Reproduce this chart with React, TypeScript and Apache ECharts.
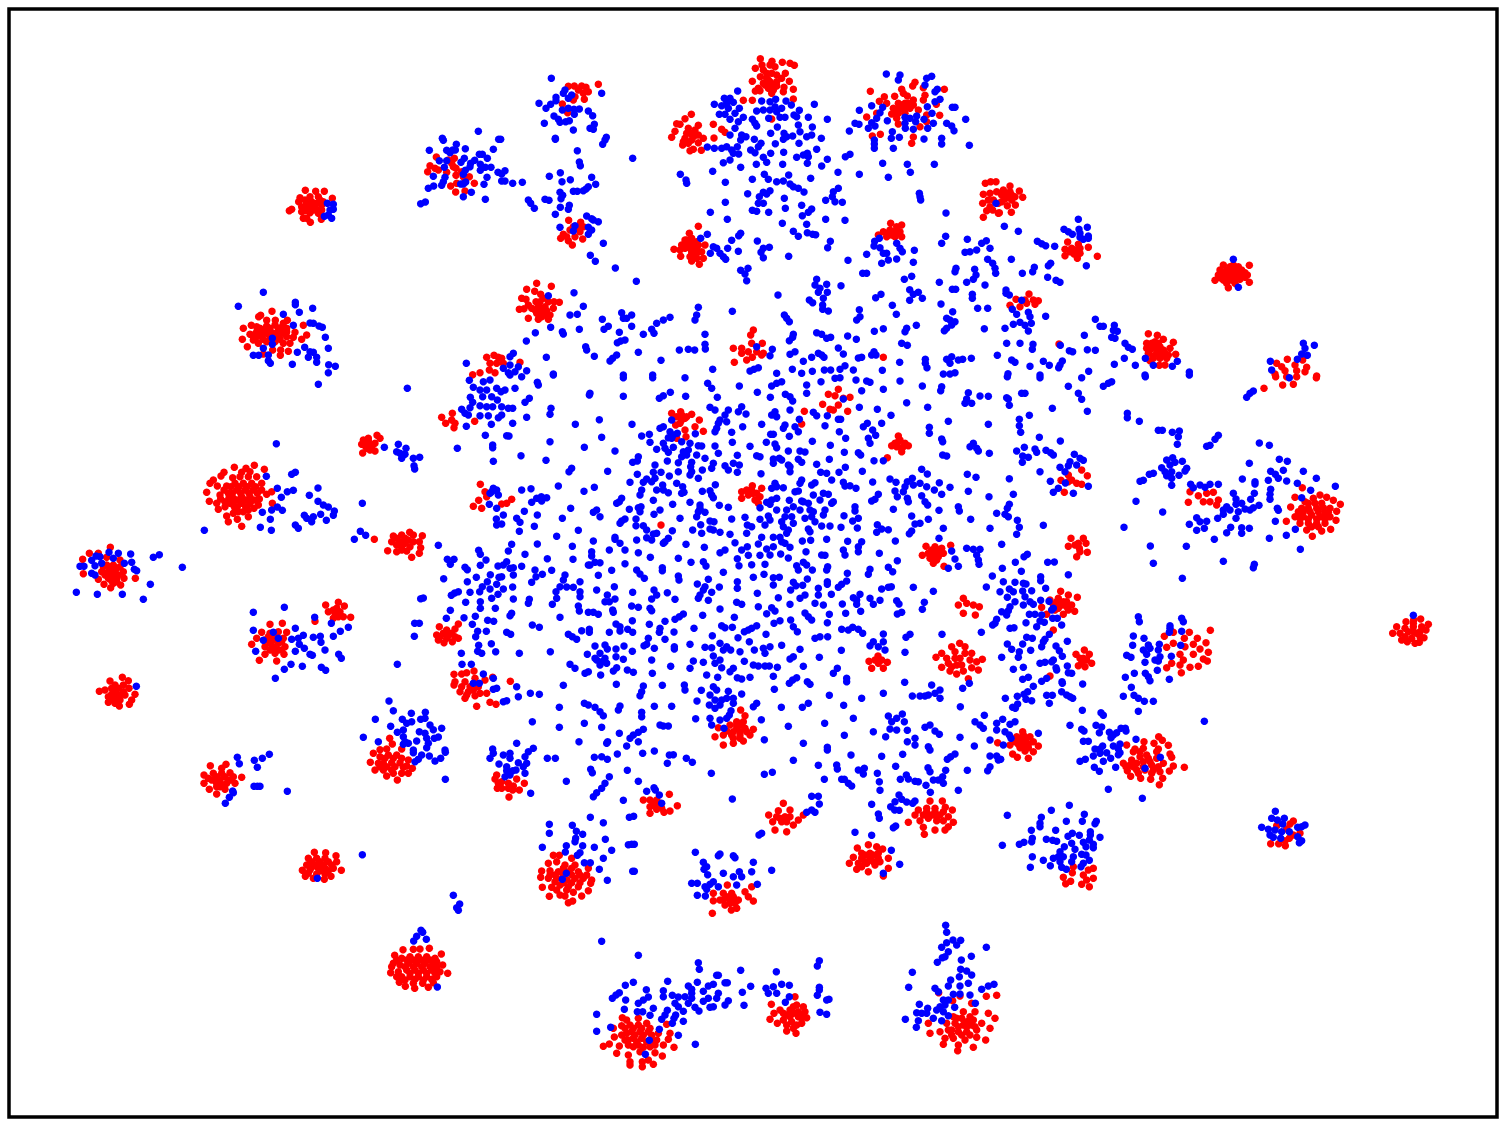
import React, { useEffect, useRef } from "react";
import * as echarts from "echarts";

// Readings from the picture, in thirds of a picture pixel, one list per sheet of the 3x3 survey.
type P = number[][];
const redA: P = [[916,571],[947,574],[973,574],[997,595],[900,593],[930,590],[955,590],[896,605],[915,600],[935,605],[950,610],[970,605],[905,620],[925,620],[945,620],[965,615],[875,628],[868,632],[905,635],[930,638],[955,640],[910,655],[920,655],[964,658],[931,667],[950,630],[965,630],
[1309,471],[1363,475],[1345,480],[1355,490],[1290,497],[1283,515],[1305,505],[1315,510],[1340,517],[1360,500],[1368,505],[1385,515],[1368,526],[1390,530],[1408,530],[1423,550],[1395,545],[1352,558],[1370,550],[1395,573],[1367,576],
[816,934],[782,946],[776,950],[862,961],[800,961],[826,961],[850,970],[754,976],[770,980],[730,985],[800,978],[825,975],[845,982],[910,976],[750,1003],[770,995],[790,990],[810,995],[835,995],[860,995],[885,997],[920,1005],[727,1018],[760,1020],[785,1010],[810,1010],[835,1010],[860,1010],[905,1018],[880,1012],[742,1040],[775,1030],[800,1025],[825,1025],[850,1030],[870,1030],[818,1050],[842,1050],[865,1054],[790,1062],[841,1066],
[1460,1072],[1482,1066],[1495,1072],[1470,1090],[1490,1090],[1468,1110],[1440,1118],[1418,1124],[1485,1118],
[920,610],[940,612],[960,600],[915,632],[940,630],[780,1000],[800,1000],[820,1000],[845,1000],[790,1018],[815,1018],[840,1018],[780,985],[810,985],[835,985],[860,985],[770,1010],[760,1005]];
const blueA: P = [[982,610],[1000,613],[990,630],[1000,628],[973,649],[985,645],[995,655],
[1435,394],[1327,415],[1330,421],[1496,418],[1369,433],[1396,446],[1480,448],[1288,451],[1340,451],[1350,458],[1358,450],[1366,450],[1438,463],[1447,463],[1462,475],[1393,475],[1383,487],[1318,482],[1340,482],[1424,481],[1412,490],[1410,500],[1441,493],[1333,502],[1456,502],[1473,502],[1441,511],[1494,517],[1396,511],[1390,523],[1300,529],[1461,532],[1335,532],[1330,545],[1325,556],[1301,558],[1285,565],[1397,546],[1382,552],[1390,552],[1452,553],[1414,577],[1390,590],[1456,598],[1276,606],[1262,611],
[790,877],[715,919],[886,907],[886,914],[938,925],[898,937],[850,943],[880,976],[930,969],[940,970],[957,978],[967,982],[976,1012],[817,1015],[817,1033],[790,1045],[914,1042],[985,1045],[930,1055],[940,1057],[892,1057],[805,1065],[760,1066],[776,1066],[950,1072],[925,1072],[805,1082],[811,1090],[877,1093],[950,1087],[986,1094],[1006,1099],[985,1118],[1399,1090]];

const redB: P = [[781,176],[816,184],[847,187],[870,190],[883,196],[786,195],[766,205],[810,195],[825,200],[790,210],[815,220],[856,220],[781,230],[800,235],[845,235],[757,244],[810,245],[830,245],[868,244],[790,250],[815,255],[775,265],[766,273],[780,272],[805,265],[820,270],[852,262],[850,275],[880,268],[815,280],[880,297],[730,301],[757,301],[815,357],
[205,259],[223,258],[245,258],[258,262],[295,253],[265,275],[235,270],[250,280],[225,290],[253,298],[220,300],[187,312],[203,338],
[1111,274],[1245,247],[1238,258],[1270,263],[1333,268],[1205,268],[1210,280],[1153,290],[1184,289],[1222,288],[1138,304],[1160,310],[1240,300],[1275,286],[1270,300],[1195,310],[1225,310],[1309,313],[1180,325],[1205,325],[1230,325],[1255,330],[1130,340],[1100,351],[1175,342],[1195,340],[1215,340],[1280,345],[1319,346],[1190,355],[1195,372],[1280,365],[1260,380],[1117,408],[1141,403],[1240,411],[1235,430],
[574,343],[555,356],[530,371],[540,373],[595,376],[640,373],[565,385],[585,390],[525,394],[665,388],[675,397],[570,400],[595,405],[515,412],[610,415],[642,414],[555,415],[575,420],[550,425],[595,428],[548,435],[580,448],[570,452],[604,451],
[110,850],[154,859],[80,868],[104,874],[122,883],[65,895],[78,898],[130,895],[108,905],[145,905],[162,905],[178,907],[85,915],[115,915],[135,920],[58,928],[72,926],[105,930],[125,935],[160,925],[150,945],[110,940],[140,945],[85,955],[115,958],[145,958],
[1456,550],[1472,545],[1488,545],[1450,583],[1470,580],[1490,575],[1465,600],[1480,600],[1448,610],[1470,620],[1495,610],[1460,632],[1450,652],[1478,630],[1495,640],
[206,661],[242,667],[220,680],[235,682],[250,680],[210,690],[240,695],[190,703],[182,715],[200,710],[225,710],[248,717],[205,722],[217,735],
[595,679],[568,700],[555,720],[575,715],[590,725],[615,735],[545,735],[565,735],[590,745],[522,748],[540,750],[575,755],[605,755],[542,769],[570,770],[590,775],[610,775],[598,793],[575,783],
[1172,670],[1205,675],[1190,680],[1150,695],[1170,690],[1200,695],[1135,705],[1160,710],[1185,710],[1205,710],
[1150,1072],[760,990],[752,1005],[787,1030],[755,1030],[700,1045],[725,1045],[745,1055],[770,1055],[790,1060],[725,1060],[740,1080],[757,1072],[703,1087],[785,1065],[5,1075],[10,1090],[60,1087],
[800,220],[830,225],[795,255],[830,258],[805,240],[1195,325],[1215,325],[1205,315],[1185,335],[1215,310],[1240,315],[560,400],[580,410],[565,430],[585,405],[120,905],[120,925],[95,925],[140,932],[125,950],[560,720],[575,730],[555,745],[580,745],[595,735],[570,745],[575,765],[590,760],[1180,695],[1160,700],[1190,700],[1175,705]];
const blueB: P = [[154,235],[195,270],[190,280],[215,285],[205,295],[305,280],[117,310],[168,292],[168,302],[152,313],[138,325],[187,330],[205,325],[222,328],[238,327],[265,333],[278,347],[223,343],[162,348],[175,358],[180,367],[197,365],[208,362],[133,370],[283,373],[270,385],[280,388],[220,390],[166,415],[166,418],[319,412],[315,420],[308,433],[2,418],[232,452],[238,486],[241,497],[398,475],
[15,512],[5,522],[181,518],[148,529],[275,532],[211,539],[186,545],[15,543],[5,543],[38,550],[67,547],[287,553],[265,560],[258,567],[250,572],[220,574],[232,574],[180,577],[188,586],[183,596],[85,600],[92,610],[103,625],[135,598],[147,601],[208,616],[205,628],[181,622],[166,643],[260,648],[275,656],[295,665],[280,660],[225,677],[180,682],[265,682],[275,690],[220,693],[265,703],[310,730],[271,766],[286,784],[346,804],[409,844],
[713,273],[673,295],[690,295],[643,313],[665,317],[680,310],[700,307],[685,325],[718,325],[705,340],[658,343],[675,343],[730,352],[690,358],[715,365],[757,358],[765,370],[770,378],[705,385],[690,405],[725,405],[738,410],[722,420],[763,418],[622,441],[643,445],[665,445],[680,440],[712,440],[695,450],[700,460],[716,462],[752,450],[765,458],[690,480],[670,488],[722,502],[783,430],[775,440],[826,431],[812,400],[832,381],[852,400],[860,410],[878,408],[850,418],[897,430],[900,395],[895,375],[925,352],[982,358],[937,381],[935,405],[920,410],[964,415],[950,448],[851,457],[812,460],[790,472],[800,487],[769,493],[848,493],[890,472],[910,465],[922,460],[925,470],[922,490],[965,498],[982,478],[1014,517],[1078,523],[785,303],[810,305],[827,298],[858,303],[874,315],[898,331],[943,313],[770,333],[790,330],[810,330],[825,320],[845,325],[830,335],[855,352],[840,352],[806,355],[882,345],[890,350],[1048,393],[1036,470],[1050,463],[1065,370],[1077,373],
[1159,222],[1200,225],[1195,240],[1295,229],[1280,235],[1275,255],[1312,268],[1305,275],[1320,298],[1305,305],[1078,331],[1115,317],[1148,322],[1140,338],[1130,355],[1115,368],[1125,378],[1105,385],[1162,362],[1215,352],[1230,355],[1250,348],[1272,358],[1247,365],[1215,370],[1216,385],[1240,388],[1283,385],[1282,320],[1296,340],[1300,370],[1357,322],[1365,322],[1397,358],[1340,370],[1355,378],[1362,392],[1177,395],[1174,415],[1198,412],[1123,420],[1123,432],[1123,445],[1180,445],[1272,417],[1325,415],[1325,432],[1408,436],[1148,490],[1222,493],[1303,493],[1165,532],[1231,517],[1258,580],[1260,590],[1262,600],[1338,639],
[638,514],[541,523],[558,540],[560,550],[676,547],[757,538],[793,523],[805,538],[866,525],[850,543],[830,545],[932,535],[870,552],[880,560],[895,565],[912,576],[810,572],[790,577],[778,590],[800,582],[743,581],[853,595],[1015,565],[1000,575],[997,590],[977,601],[1005,605],[1027,607],[676,607],[790,610],[775,610],[905,616],[856,625],[935,627],[925,637],[907,647],[631,637],[757,631],[770,634],[806,637],[682,658],[977,658],[1035,661],[847,670],[920,673],[880,694],[922,698],[938,703],[947,704],[895,709],[722,700],[716,707],[695,721],[772,723],[622,703],[602,715],[640,740],[650,745],[683,745],[660,760],[670,770],[677,778],[631,760],[715,754],[808,742],[790,745],[783,757],[790,773],[866,769],[744,805],[722,811],[735,822],[740,842],[991,724],[983,743],[1044,781],[1100,763],[1337,709],[1325,730],[1402,718],[1445,730],[1459,722],[1470,745],[1395,757],[1410,755],[1430,750],
[1124,724],[1138,715],[1122,738],[1140,743],[1190,730],[1200,745],[1207,755],[1243,751],[1150,760],[1160,760],[1240,787],[1165,780],[1190,777],[1145,790],[1100,820],[1088,820],[1235,829],[1213,838],[1463,778],[1478,790],[1485,805],[1487,820],[1424,808],[1368,805],[1365,815],[1428,825],[1420,838],[1318,847],[1400,847],
[950,838],[945,855],[980,853],[960,865],[982,877],[955,877],[1023,857],[970,895],[834,885],[928,900],[938,908],[968,915],[1143,883],[1127,893],[1229,869],[1255,877],[1240,883],[1267,895],[1229,901],[1357,868],[1367,868],[1455,855],[1417,883],[1417,895],[1323,912],[1177,916],[1433,925],[1463,925],[968,928],[985,933],[1078,929],[1189,943],[1358,935],[853,945],[860,955],[868,965],[1340,955],[1350,960],[1365,965],[1080,950],[1070,960],[1249,976],[1355,975],[1150,986],[1220,985],[1215,995],[1123,994],[1453,986],[1340,985],[1333,992],
[595,922],[590,945],[585,960],[697,934],[510,952],[490,960],[470,970],[395,945],[365,938],[370,955],[380,955],[307,958],[395,979],[325,979],[312,988],[455,988],[430,1003],[462,1000],[358,997],[238,988],[152,982],[106,998],[187,995],[190,1002],[250,919],[222,878],[145,887],[210,945],[232,943],[615,1003],[615,1033],[616,1047],[565,1048],[584,1050],[538,1050],[415,1057],[375,1020],[362,1023],[352,1028],[257,1040],[260,1050],[79,1023],[40,1060],[30,1070],[139,1072],[283,1069],[350,1065],[338,1075],[330,1083],[483,1081],[770,1040],[817,1048],[810,1067],[880,1003],[878,1012],[868,1022],[885,1055],[870,1063],[950,998],[965,1003],[980,1015],[992,1012],[1043,1008],[1069,1018],[1015,1044],[1030,1062],[955,1060],[965,1065],[972,1072],[935,1072],[910,1084],[1075,1074],[1085,1072],[1122,1055],[1115,1065],[1128,1065],[1205,1030],[1222,1036],[1199,1087],[1276,1078],[1276,1090],[1281,1103],[1340,1078],[1355,1070],[1375,1080],[1388,1078],[1414,1075],[1350,1090],[1492,1066],[638,1108],[160,1122],[30,1095],[10,1105],[55,1100],[80,1112],[45,1115],[25,1118],[775,1103],[762,1108],[750,1113],[877,1108],[830,1120],[905,1120],[937,1114],[973,1110],[992,1110],[1035,1097],[1020,1108],[1060,1110],[1147,1111],[1365,1118],[1350,1122],[1330,1122],[370,1125],[458,1125],[1488,610]];

const redC: P = [[30,558],[58,573],[10,570],[30,575],[5,585],[25,590],[45,590],[68,592],[5,605],[22,617],[46,615],[34,637],[-2,638],
[203,726],[235,733],[195,748],[215,745],[240,745],[265,742],[195,767],[222,762],[240,760],[232,775],[292,769],
[670,795],[700,795],[748,796],[660,810],[680,810],[700,810],[725,810],[742,825],[655,825],[675,825],[700,825],[725,825],[645,841],[670,840],[695,840],[720,838],[748,847],[685,863],
[87,882],[48,898],[75,900],[100,900],[115,902],[30,916],[60,920],[80,910],[105,913],[177,1032],
[445,1001],[472,1006],[490,1018],[520,1027],[440,1030],[465,1025],[440,1045],[460,1040],[480,1040],[510,1045],[445,1060],[470,1060],[495,1060],[527,1063],[460,1075],[480,1075],[500,1075],[450,1082],[478,1096],[495,1095],
[862,1078],[908,1080],[830,1090],[885,1095],[845,1100],[920,1102],[825,1122],[855,1112],[890,1112],[915,1115],[950,1128],
[690,800],[715,800],[665,818],[690,818],[715,818],[735,818],[660,833],[685,833],[710,833],[735,832],[680,850],[705,850],[695,800],[455,1030],[475,1030],[450,1050],[470,1050],[490,1050],[460,1068],[485,1068],[505,1065],[478,1055],[225,750],[210,755],[235,755],[15,580],[35,585],[15,597],[35,600]];
const blueC: P = [[235,658],[13,679],[55,694],[262,682],[192,688],[205,695],[217,703],[237,688],[240,700],[240,712],[265,708],[250,718],[265,715],[112,724],[125,731],[137,737],[164,739],[259,797],[34,778],[152,790],[145,797],[103,802],[98,815],[67,820],[143,832],[168,841],[180,847],[700,778],[715,862],[18,870],[28,885],[18,880],[65,901],[37,928],[85,937],[50,943],[90,950],[137,949],[286,958],[300,979],[310,979],[343,976],[340,991],[352,994],[335,1012],[345,1015],[253,1006],[60,967],[40,973],[75,976],[94,970],[15,985],[85,993],[20,1030],[60,1030],[99,1033],[97,1048],[181,1036],[208,1052],[218,1055],[262,1049],[286,1051],[375,1030],[385,1042],[397,1048],[436,1075],[373,1075],[532,1084],[130,1084],[35,1080],[45,1087],[187,1083],[180,1095],[176,1103],[148,1096],[90,1099],[343,1093],[406,1096],[460,1096],[517,1099],[568,1116],[266,1114],[24,1121],[120,1125],[435,1125],[811,1084],[815,1110],[892,1078],[910,1030],[915,1045],[943,1036],[905,1062],[922,1066]];

const redD: P = [[703,277],[763,271],[793,283],[738,280],[725,292],[750,290],[672,292],[663,303],[698,308],[720,305],[745,305],[770,305],[640,315],[630,325],[652,333],[680,333],[705,325],[730,325],[755,325],[785,325],[620,352],[660,360],[685,355],[710,345],[735,345],[760,345],[785,345],[815,350],[800,358],[628,379],[650,385],[675,380],[700,370],[725,365],[750,365],[778,372],[817,385],[655,403],[675,395],[700,390],[725,385],[750,385],[775,390],[680,423],[700,415],[715,410],[745,405],[745,425],[685,440],[712,433],[725,454],
[331,517],[268,535],[295,535],[320,547],[248,553],[360,555],[250,596],[320,570],[340,570],[360,575],[305,590],[325,590],[345,590],[370,590],[406,610],[295,613],[325,610],[350,610],[372,610],[312,628],[340,625],[362,630],[332,638],
[1229,472],[1267,482],[1123,493],[1180,483],[1205,480],[1240,480],[1175,500],[1200,500],[1225,495],[1258,500],[1205,515],[1230,515],[1262,518],[1163,527],[1190,530],[1220,528],[1258,535],[1235,547],
[1131,181],[1140,190],[1090,195],[1105,190],[1085,208],[1105,205],[1125,205],[1100,220],[1125,228],[1088,234],[1110,225],
[1325,127],[1357,115],[1337,145],[1355,135],[1365,145],[1362,158],[1424,139],[1441,328],[1455,350],[1460,365],[1436,376],[1420,394],[1445,400],
[1318,755],[1375,747],[1365,762],[1310,780],[1330,775],[1355,775],[1315,795],[1340,790],[1375,790],[1332,803],[1357,800],
[1422,888],[1362,898],[1385,897],[1400,893],[1478,907],[1365,920],[1395,920],[1425,910],[1455,915],[1362,930],[1420,945],[1380,950],[1405,950],[1440,955],[1460,955],[1395,970],[1430,994],[1470,982],[1488,988],
[1015,682],[977,690],[1033,693],[1010,700],[985,710],[1005,715],[1030,725],[1052,727],[1000,730],[945,739],
[810,748],[847,745],[785,772],[860,772],[770,790],[810,775],[835,770],[755,808],[795,795],[820,795],[850,790],[795,815],[820,815],[855,815],[795,838],[825,835],[852,838],[778,856],[830,858],
[367,907],[330,918],[385,917],[345,930],[370,930],[387,940],[298,949],[315,945],[345,950],[370,950],[405,958],[325,965],[350,968],[395,975],[325,982],[345,985],[358,993],[388,988],
[1169,1090],[1177,1107],[1140,1124],[1160,1122],[1205,1122],
[692,335],[717,335],[742,335],[767,335],[672,345],[697,355],[722,355],[747,355],[772,355],[662,372],[687,368],[712,375],[737,375],[762,375],[690,385],[712,395],[737,395],[762,400],[705,400],[730,410],[330,580],[350,580],[315,600],[335,600],[355,600],[335,618],[350,620],[310,575],[1190,490],[1215,490],[1190,510],[1215,505],[1240,500],[1205,525],[1105,197],[1115,215],[1095,212],[805,785],[825,785],[845,800],[810,805],[835,805],[810,825],[835,825],[845,825],[355,940],[335,940],[360,960],[335,958],[375,960],[340,975],[360,975],[1000,705],[1020,710],[1015,725],[1340,765],[1320,785],[1345,782],[1365,785],[1410,935],[1435,935],[1385,935],[1400,960],[1425,962]];
const blueD: P = [[955,28],[1222,40],[829,206],[1153,217],[1195,208],[1218,220],[1190,230],[1200,235],[1215,238],[1205,250],[1240,250],[1259,247],[1242,272],[1244,282],
[886,292],[875,298],[799,304],[832,340],[954,339],[880,346],[862,350],[928,361],[844,367],[954,379],[1087,385],[970,390],[985,396],[832,396],[815,405],[847,406],[787,412],[1003,408],[1000,421],[962,418],[913,421],[920,430],[940,425],[935,440],[979,436],[811,433],[886,450],[895,460],[781,457],[814,466],[613,466],[1081,469],[1097,481],[1063,493],[1315,511],
[327,532],[355,535],[392,537],[478,539],[460,547],[288,543],[300,545],[275,556],[340,550],[395,562],[305,565],[373,565],[285,572],[240,574],[252,574],[547,577],[403,583],[410,587],[275,595],[285,600],[451,628],[229,652],[292,658],[367,658],[430,673],
[853,697],[760,712],[944,727],[994,745],[1045,757],[886,760],[760,766],[1021,769],[820,772],[835,790],[790,796],[875,793],[910,781],[895,790],[940,787],[961,784],[1000,784],[963,802],[898,808],[913,820],[975,825],[767,829],[886,829],[930,838],[937,841],[1016,838],[1024,850],[873,868],[907,874],[853,883],[964,877],[977,886],[826,910],[409,934],
[1408,16],[1450,20],[1470,15],[1420,37],[1440,45],[1460,45],[1490,40],[1448,65],[1475,65],[1411,67],[1418,82],[1492,75],[1385,103],[1410,98],[1440,92],[1460,95],[1478,95],[1395,115],[1405,120],[1440,122],[1465,122],[1495,128],[1474,148],[1399,154],[1456,181],[1372,220],[1478,210],[1478,218],[1480,259],
[1480,340],[1475,350],[1490,345],[1470,355],[1495,360],[1468,388],[1490,400],[1489,432],[1490,450],
[1436,526],[1441,538],[1342,553],[1362,553],[1351,568],[1395,577],[1402,584],[1458,555],[1441,571],[1494,573],[1331,611],[1429,607],[1471,599],[1402,620],[1497,607],[1462,620],[1490,628],[1447,635],[1470,642],[1439,650],[1410,652],[1375,650],[1364,654],[1354,661],[1494,658],[1441,680],[1475,670],[1397,682],[1270,669],[1262,671],[1441,700],[1486,700],[1351,706],[1426,724],[1392,728],[1339,730],[1463,736],[1481,739],[1417,748],[1244,745],[1258,745],[1433,769],[1459,769],[1427,785],[1243,784],[1474,806],[1436,811],[1433,829],[1445,835],[1487,830],[1384,835],[1192,868],[1386,868],[1414,868],[1450,897],[1480,910],[1420,925],[1438,925],[1480,943],[1490,940],
[1167,978],[1180,1007],[1126,1033],[1234,1015],[1276,1012],[1207,1033],[1275,1030],[1262,1033],[1235,1040],[1220,1045],[1290,1050],[1325,1060],[1300,1064],[1172,1054],[1192,1072],[1210,1065],[1258,1070],[1275,1075],[1210,1085],[1280,1090],[1315,1086],[1303,1090],[1090,1087],[1135,1100],[1215,1100],[1225,1105],[1250,1098],[1285,1105],[1210,1108],[1335,1125],[1478,1122],[1240,1125],[1280,1118]];

const redE: P = [[515,115],[542,110],[575,118],[530,125],[555,130],[540,145],[598,135],[585,155],[527,150],[555,165],[610,169],[558,185],[530,190],
[1015,43],[985,58],[1005,62],[1050,67],[1030,70],[968,88],[1015,90],[990,103],[1000,105],[913,109],[1043,109],[905,147],
[1195,183],[1175,212],[1195,200],[1225,212],[1210,215],[1205,230],[1162,248],
[757,332],[725,350],[740,345],[785,340],[760,355],[780,365],[725,370],[775,385],[755,345],
[1278,514],[1352,511],[1305,515],[1325,520],[1285,535],[1305,535],[1330,535],[1267,541],[1290,550],[1310,555],[1300,565],[1332,574],
[483,450],[31,919],[35,373],[20,385],[5,387],
[1390,670],[1375,690],[1400,685],[1420,690],[1438,695],[1390,715],[1426,720],
[1134,843],[1107,859],[1125,855],[1145,855],[1162,862],[1115,880],[1150,880],[1135,865],
[1379,805],[1355,815],[1395,815],[1325,835],[1365,830],[1415,835],[1308,847],[1340,850],[1380,850],[1410,855],[1447,853],[1325,877],[1355,875],[1385,870],[1415,878],[1435,885],[1350,888],[1370,897],[1390,888],[1405,911],[1430,860],
[722,1005],[735,1022],[710,1040],[730,1040],[655,1058],[690,1050],[710,1060],[735,1060],[760,1063],[645,1085],[670,1080],[695,1080],[720,1080],[750,1080],[670,1110],[700,1105],[730,1098],[1493,1103],
[1295,525],[1315,525],[1295,545],[1315,545],[1320,530],[1290,540],[1305,525],[1310,548],[1200,195],[1190,215],[1215,205],[1205,220],[1185,205],[700,1070],[720,1070],[740,1070],[680,1068],[700,1090],[720,1090],[710,1050],[725,1050],[1365,850],[1395,835],[1370,870],[1345,865],[750,355],[770,355],[765,375],[745,360],[545,120],[560,125],[545,135]];
const blueE: P = [[30,0],[65,5],[160,0],[370,8],[458,8],[555,8],[112,22],[115,30],[45,40],[15,45],[3,50],[623,25],[635,40],[718,33],[815,33],[830,25],[845,20],[920,30],[963,20],[1005,10],[1020,8],[1068,15],[1100,18],[1110,22],[1200,18],[1267,33],[1325,35],[1322,47],[1150,43],[920,55],[1085,47],[772,52],[1405,53],
[270,55],[268,60],[511,52],[370,64],[557,64],[490,62],[478,70],[88,70],[75,82],[652,67],[811,67],[856,58],[870,65],[878,78],[1030,72],[1440,63],[1465,64],[1400,72],[1415,85],[1395,85],[1220,83],[1283,97],[1078,97],[630,97],[25,100],[38,100],[5,95],[153,100],[725,95],
[645,105],[685,105],[150,118],[80,127],[5,120],[298,134],[38,145],[226,148],[396,148],[515,135],[490,155],[480,160],[738,117],[715,110],[675,120],[660,135],[655,145],[680,140],[870,105],[825,110],[830,125],[815,120],[940,112],[950,122],[982,122],[1132,103],[1173,121],[1015,133],[1022,133],[898,133],[785,148],[855,150],[885,155],[975,152],[1102,145],[1090,155],[1145,145],[1345,139],[1465,148],[1288,157],[728,155],
[20,182],[27,183],[305,187],[425,183],[448,178],[510,170],[520,180],[505,188],[515,190],[532,175],[586,176],[650,160],[645,170],[695,172],[850,160],[895,170],[820,178],[812,178],[868,184],[1018,170],[1037,190],[1118,165],[1127,181],[1105,190],[1288,175],[1325,192],[1110,205],[937,199],[150,200],[450,202],
[253,217],[345,228],[63,242],[570,205],[545,200],[490,205],[470,223],[520,217],[595,212],[605,213],[645,213],[495,220],[505,232],[697,202],[565,225],[550,230],[545,245],[560,240],[655,235],[750,214],[799,202],[825,207],[830,218],[865,228],[900,228],[915,231],[991,211],[1033,232],[1075,233],[1082,240],[1328,200],[1328,240],[1340,243],[1420,205],[1410,215],[1430,220],[1435,228],[1468,235],[590,240],[615,250],[712,241],[770,242],[780,245],
[138,256],[502,258],[415,245],[398,262],[412,258],[535,263],[575,262],[572,275],[640,265],[635,280],[675,272],[700,265],[718,270],[685,285],[712,292],[820,252],[838,250],[820,265],[845,255],[895,253],[905,262],[950,268],[988,253],[1122,257],[1150,257],[870,275],[865,270],[1036,277],[1087,289],[1265,283],[1282,297],[1402,298],[215,280],[207,290],[323,289],[465,270],[460,292],[483,292],[535,290],[575,290],[607,285],[870,290],[783,296],[962,292],[980,295],[1017,292],[412,298],[570,300],[1428,307],
[508,303],[595,310],[440,312],[465,310],[430,322],[390,322],[455,320],[530,325],[488,330],[548,335],[646,329],[825,325],[830,335],[850,338],[815,340],[905,315],[900,325],[935,330],[945,323],[995,315],[1030,322],[1035,333],[1050,332],[1068,340],[1118,321],[1170,312],[1188,322],[1222,320],[1215,335],[1240,330],[1260,325],[1280,335],[1237,310],[1318,323],[1350,337],[175,333],[283,337],[65,345],[93,341],[1303,345],[470,345],[425,345],[490,345],[505,353],[552,352],[607,349],[630,347],[635,360],[895,348],[885,350],[1210,350],[1185,348],[1405,349],
[252,349],[545,355],[420,360],[365,370],[358,380],[350,385],[124,365],[140,368],[110,370],[125,378],[95,382],[460,376],[518,388],[570,382],[640,368],[658,391],[685,397],[600,390],[970,355],[1000,380],[985,358],[940,360],[960,375],[925,385],[905,378],[868,376],[830,370],[815,375],[800,382],[1135,358],[1125,373],[1115,378],[1192,365],[1222,370],[1225,380],[1275,380],[1283,390],[1325,358],[1265,362],[1467,365],[1375,395],[810,388],[780,398],[910,380],[1065,395],[995,385],
[212,400],[290,405],[280,412],[300,425],[187,430],[73,409],[112,420],[50,430],[60,442],[388,403],[415,398],[423,395],[480,405],[462,418],[420,410],[600,400],[595,410],[615,412],[590,425],[540,430],[375,432],[365,438],[360,445],[408,432],[830,405],[860,405],[880,395],[900,405],[940,410],[930,405],[975,405],[970,420],[1065,408],[1180,403],[1317,406],[1378,408],[1490,415],[1235,423],[1032,422],[1075,430],[805,423],[810,435],[780,433],[735,427],[695,432],[855,425],[875,425],[845,440],[880,445],[915,430],[935,425],[945,440],[1058,438],[1412,433],[1285,433],[1260,445],[1245,447],[630,438],[642,440],[602,449],[408,452],[795,450],[742,450],[755,455],[10,420],[5,447],
[103,454],[58,469],[235,466],[170,484],[430,452],[440,465],[470,475],[460,477],[517,467],[578,465],[605,475],[630,462],[660,472],[640,465],[965,453],[990,453],[1023,457],[1072,459],[925,462],[850,455],[865,465],[1132,449],[1130,472],[1165,464],[1145,462],[1470,460],[1330,460],[1235,468],[1228,476],[740,475],[690,478],[785,487],[820,487],[840,487],[860,475],[930,470],[345,487],[345,493],[440,488],[455,495],[410,495],[505,490],[495,500],[280,498],[112,507],[1186,498],[1317,490],[980,493],[907,498],[932,496],[1043,499],[705,503],[855,505],
[35,508],[217,514],[558,508],[360,505],[490,505],[613,517],[375,525],[328,525],[25,528],[775,507],[742,515],[725,525],[800,522],[820,515],[845,500],[870,517],[1085,500],[1075,515],[1075,530],[1030,525],[1035,540],[1400,520],[1420,523],[1440,523],[275,530],[275,543],[415,533],[75,538],[660,533],[675,525],[810,540],[780,541],[745,541],[842,537],[865,549],[918,530],[965,540],[975,541],[1138,535],[1355,528],[1430,540],[1365,552],[1435,555],[142,551],[219,553],[451,547],[535,550],
[20,560],[10,570],[30,580],[65,574],[40,578],[285,562],[265,570],[300,563],[270,570],[375,566],[487,578],[487,587],[573,562],[610,560],[618,573],[712,551],[717,572],[755,569],[795,568],[890,572],[910,562],[920,570],[937,585],[895,585],[983,575],[980,585],[1192,557],[1165,577],[1178,590],[1110,583],[1105,598],[1437,568],[1375,574],[1345,580],[105,585],[127,598],[108,605],[155,586],[335,586],[410,585],[420,597],[1042,595],[670,592],
[40,600],[5,605],[195,600],[295,601],[190,615],[240,620],[433,610],[535,603],[537,615],[625,613],[95,622],[760,607],[792,598],[820,608],[838,607],[820,630],[712,620],[712,640],[880,622],[888,632],[908,631],[922,612],[982,620],[982,628],[1040,618],[1025,628],[1015,637],[1477,603],[1174,635],[1165,637],[1145,642],[1240,637],[1459,636],[38,636],[10,642],[180,635],[200,636],[220,637],[168,650],[240,650],[290,645],[343,635],[592,627],[615,635],[658,636],[610,645],[872,645],[955,640],[398,652],[462,645],[502,653],[1300,649],[635,652],
[240,665],[170,670],[40,672],[88,673],[85,685],[157,688],[322,660],[345,672],[315,680],[328,680],[470,660],[455,672],[525,673],[600,660],[595,670],[625,676],[772,655],[835,668],[915,660],[900,670],[955,660],[945,685],[994,658],[1060,668],[1080,658],[1070,675],[1070,688],[1110,670],[1120,688],[1140,676],[1190,677],[1197,687],[1273,682],[710,682],[725,688],[870,688],[1027,687],[235,693],[395,693],[415,697],[450,700],[775,695],[970,690],
[238,708],[265,712],[280,712],[295,718],[338,705],[340,712],[455,707],[660,702],[815,698],[825,708],[800,716],[915,714],[925,725],[935,735],[35,715],[30,722],[180,727],[608,721],[703,727],[1205,712],[1192,717],[1267,703],[1037,715],[1082,709],[988,718],[550,717],[538,725],[525,733],[872,735],[397,737],[495,739],[840,737],[822,745],[982,743],[1490,733],[1485,745],[448,748],[348,747],[97,750],
[118,757],[360,755],[360,768],[268,763],[268,772],[383,763],[398,772],[480,760],[478,772],[582,760],[665,752],[675,758],[697,757],[770,752],[755,760],[745,765],[733,770],[880,755],[892,770],[245,767],[328,772],[522,771],[1025,763],[1045,765],[1058,757],[1075,763],[1088,775],[1230,778],[1218,787],[1478,750],[1444,772],[1326,778],[1150,777],[20,772],[32,778],[205,778],[217,785],[230,793],[798,778],[637,782],[714,788],[983,785],[960,785],[945,790],[495,793],[445,790],
[58,835],[151,830],[285,813],[315,810],[322,822],[348,822],[372,813],[300,835],[285,850],[315,850],[305,860],[262,838],[348,845],[397,829],[440,808],[432,812],[463,820],[523,815],[523,822],[570,808],[615,817],[635,818],[660,805],[680,815],[692,825],[670,825],[640,843],[660,855],[720,830],[748,800],[763,825],[790,820],[795,835],[810,815],[845,811],[900,823],[880,845],[870,852],[1024,826],[1120,800],[1150,800],[1110,812],[1135,815],[1155,825],[1215,832],[958,847],
[370,853],[290,855],[320,865],[300,870],[210,868],[225,880],[350,878],[340,888],[382,885],[400,892],[265,890],[255,895],[302,900],[455,855],[457,895],[512,874],[580,858],[570,880],[610,862],[645,865],[665,878],[733,859],[760,870],[775,873],[795,873],[808,873],[832,877],[700,880],[690,890],[620,900],[910,874],[1012,880],[1000,895],
[653,907],[712,908],[725,912],[750,907],[820,904],[890,908],[878,915],[868,925],[922,920],[930,928],[1040,910],[1040,920],[1214,922],[1295,930],[1408,925],[1388,940],[349,928],[190,931],[50,935],[430,933],[425,950],[487,931],[553,930],[555,945],[640,935],[650,945],[604,946],[685,949],[725,957],[823,943],[1320,945],[1305,955],[1285,960],
[91,955],[118,958],[55,965],[420,962],[630,960],[645,975],[665,975],[680,970],[700,970],[700,985],[591,978],[628,990],[660,990],[645,1000],[20,977],[10,980],[988,961],[1150,955],[1085,970],[1237,963],[1260,963],[1275,963],[1320,970],[253,985],[265,990],[285,997],[178,997],[360,993],[355,1005],[463,994],[515,994],[770,985],[760,995],[925,985],[907,997],[1031,991],[844,997],[1381,995],
[300,1010],[310,1022],[425,1012],[425,1025],[693,1007],[688,1020],[660,1035],[630,1030],[680,1030],[587,1031],[784,1034],[1060,1030],[1165,1023],[1207,1017],[1190,1030],[1213,1040],[1175,1040],[1453,1021],[1425,1040],[97,1040],[1440,1050],[1490,1045],[253,1045],[480,1050],[505,1053],[490,1053],[635,1050],[672,1060],[974,1045],[865,1054],[1290,1050],[1275,1057],[305,1057],[178,1057],
[430,1063],[415,1072],[400,1080],[390,1090],[380,1113],[415,1100],[358,1075],[1170,1062],[1190,1065],[1120,1070],[1222,1066],[1305,1068],[1318,1078],[1450,1060],[1490,1065],[1033,1081],[1157,1085],[1380,1087],[1245,1090],[793,1094],[237,1100],[323,1100],[50,1105],[910,1105],[1222,1100],[1245,1110],[1423,1113],[1470,1095],[1285,1115],[982,1117],[100,1120],[320,1105]];

const redF: P = [[827,5],[860,5],[890,5],[949,8],[848,30],[880,28],[792,40],
[245,285],[205,300],[215,315],[262,302],[183,316],[205,320],[230,325],[245,328],[193,352],
[570,350],[640,352],[620,355],[595,362],[610,380],[630,380],[655,375],[650,390],[565,382],
[907,338],[885,367],[960,360],[980,367],[1000,376],[1021,388],[872,396],[915,380],[940,370],[965,385],[990,400],[1010,409],[895,410],[925,400],[950,400],[975,415],[885,425],[910,425],[935,420],[960,425],[990,425],[1008,436],[859,439],[900,445],[925,445],[950,445],[975,445],[920,465],[965,468],[992,463],[937,484],
[213,490],[250,490],[205,514],[225,510],[258,505],[238,520],[262,532],[230,545],
[182,649],[205,660],[232,667],[150,675],[175,670],[200,680],[125,697],[160,690],[185,690],[215,690],[140,718],[190,718],[224,709],[205,705],[160,765],
[253,825],[228,838],[268,838],[250,850],[235,872],[255,875],[275,865],
[1241,735],[1218,740],[1262,732],[1285,748],[1190,755],[1240,755],[1265,755],[1178,775],[1200,775],[1225,770],[1250,775],[1278,765],[1205,795],[1222,800],[1245,805],[1258,802],[1272,788],
[631,766],[568,772],[493,784],[520,772],[553,790],[592,790],[520,805],[500,817],[580,808],[618,803],[600,822],[555,815],[540,838],[625,832],[580,838],[610,852],[550,855],[515,865],[500,878],[622,858],[540,870],[570,877],[595,874],[544,893],[150,903],
[68,1070],[50,1085],[90,1085],[45,1100],[70,1100],[100,1100],[115,1113],[30,1110],[60,1118],[85,1118],
[476,1085],[487,1096],[432,1100],[462,1105],[505,1111],[380,1110],[405,1122],[430,1120],[475,1122],
[905,400],[930,410],[955,410],[985,412],[910,410],[900,430],[925,432],[950,432],[975,432],[945,385],[970,398],[925,385],[905,425],[935,455],[955,455],[975,430],[170,680],[190,680],[175,700],[200,695],[165,705],[1215,760],[1240,770],[1260,770],[1215,785],[1235,790],[1260,785],[1240,745],[240,850],[260,855],[245,865],[235,505],[240,530],[60,1090],[80,1090],[70,1080],[55,1108],[85,1108],[70,1115]];
const blueF: P = [[22,5],[120,8],[245,8],[436,5],[568,0],[335,20],[325,25],[310,34],[205,34],[65,55],[75,55],[235,55],[245,73],[20,68],[25,72],[28,91],[157,100],[262,109],[760,48],[750,55],[740,67],[868,8],
[382,115],[382,128],[418,139],[88,121],[58,133],[58,152],[62,172],[118,187],[181,198],[475,166],[487,166],[517,172],[538,168],[535,185],[532,208],[655,181],[645,193],[630,211],[620,214],[778,204],[808,211],[73,217],[50,228],[105,222],[110,232],[138,226],[152,233],[160,240],[223,238],[240,250],[250,256],[68,243],[85,247],[67,262],[210,260],[205,272],[180,277],[230,270],[195,290],[120,290],[28,311],[151,319],[196,324],[265,334],[175,340],[160,352],[220,355],[40,358],
[518,248],[500,255],[525,262],[547,259],[510,270],[485,278],[560,280],[555,288],[495,290],[515,290],[537,301],[500,302],[460,295],[448,298],[430,316],[420,319],[515,310],[515,331],[748,265],[838,253],[862,259],[850,286],[812,289],[826,298],[835,310],[910,289],[949,310],[860,318],[805,316],[727,312],[765,320],[765,327],[892,325],[1006,334],[572,328],[580,338],[600,330],[615,337],[630,328],[655,328],[812,343],[810,358],[810,373],[700,355],[763,355],[932,346],[708,372],[752,373],[725,385],[708,388],[905,368],[408,379],[680,395],[670,405],[690,405],[715,410],[708,430],[735,402],[750,405],[760,398],[777,391],[832,400],[835,406],[488,411],[28,388],[22,400],[15,418],[25,425],[52,436],[58,457],[50,478],[130,451],[372,457],[653,430],[670,418],[590,428],[600,440],[620,439],[568,448],[613,460],[590,466],[692,457],[725,458],[725,475],[748,460],[680,473],[643,493],[826,439],[886,463],[808,490],[859,481],[901,523],[451,513],[559,514],[5,508],[82,538],[72,545],[143,562],[163,561],[46,562],[7,580],[64,589],[460,565],[670,559],[763,568],[760,578],[205,599],[122,605],[122,617],[547,610],[10,620],[45,622],[70,625],[78,627],[137,640],[95,647],[28,642],[40,650],[68,648],[0,650],[75,665],[22,667],[122,676],[90,680],[147,679],[45,680],[70,690],[100,688],[160,700],[155,705],[30,695],[25,707],[20,720],[5,710],[88,718],[105,718],[125,720],[158,730],[172,730],[120,738],[133,742],[110,755],[78,743],[185,750],[30,760],[42,758],[415,725],[418,740],[545,730],[550,740],[510,752],[510,760],[508,772],[545,769],[148,778],[80,787],[97,790],[135,793],[400,783],[432,790],[125,815],[130,800],[68,807],[22,807],[35,823],[58,830],[92,826],[168,813],[178,827],[202,799],[398,811],[445,810],[450,820],[478,808],[430,825],[475,825],[440,838],[480,845],[542,811],[514,844],[5,847],[55,847],[187,844],[380,841],[393,847],[465,855],[475,858],[435,862],[120,865],[135,862],[155,860],[160,855],[168,878],[170,885],[202,873],[40,883],[70,877],[472,886],[403,895],[436,895],[205,893],[215,895],[445,905],[450,917],[376,907],[508,913],[85,907],[68,913],[125,919],[140,910],[186,920],[187,925],[248,927],[100,934],[394,937],[185,950],[200,960],[210,965],[218,970],[370,964],[402,961],[415,970],[433,979],[460,979],[140,961],[157,961],[83,950],[72,958],[52,964],[16,970],[78,973],[95,977],[148,985],[53,987],[38,997],[46,1000],[247,1006],[415,1009],[303,1013],[310,1021],[613,1039],[8,1033],[45,1040],[30,1048],[210,1051],[288,1051],[305,1056],[245,1063],[252,1068],[298,1073],[363,1060],[376,1060],[378,1068],[328,1072],[350,1073],[340,1080],[333,1088],[115,1075],[15,1070],[28,1080],[33,1090],[408,1093],[250,1099],[265,1099],[10,1110],[308,1113],[360,1107],[340,1113],[285,1122],[355,1122],[300,1122],[1240,721]];

const redG: P = [[631,47],[678,43],[665,55],[612,75],[640,70],[665,70],[690,68],[725,82],[612,100],[635,90],[660,90],[690,90],[628,118],[650,110],[670,105],[705,100],[650,132],[675,118],
[1120,10],[1111,37],[1140,20],[1165,15],[1190,15],[1225,30],[1150,40],[1175,38],[1200,38],[1237,55],[1125,60],[1150,60],[1175,60],[1205,70],[1225,70],[1160,78],[1192,90],
[1490,75],[1485,87],[1495,100],[1492,115],
[943,307],[977,308],[1008,317],[925,325],[950,325],[975,325],[1010,335],[920,345],[945,345],[970,345],[995,345],[1024,361],[907,361],[930,360],[960,362],[985,362],[916,379],[940,385],[973,388],[993,379],
[1209,599],[1240,598],[1260,597],[1288,595],[1324,612],[1184,616],[1205,625],[1230,620],[1255,620],[1280,620],[1305,625],[1180,640],[1200,645],[1225,640],[1250,640],[1275,640],[1300,645],[1328,645],[1175,650],[1172,668],[1195,665],[1220,660],[1245,660],[1270,660],[1295,660],[1320,665],[1343,670],[1205,680],[1230,680],[1255,680],[1280,680],[1310,680],[1198,697],[1240,700],[1268,700],[1300,698],[1216,709],[1244,715],[1285,712],
[650,80],[675,80],[650,100],[680,100],[700,80],[660,110],[625,85],[1155,25],[1180,25],[1205,25],[1135,40],[1160,50],[1185,50],[1210,52],[1140,50],[1180,70],[1220,48],[960,335],[985,335],[935,335],[955,355],[975,355],[1000,355],[935,352],[950,372],[975,372],[925,370],
[1220,630],[1240,630],[1265,630],[1290,630],[1310,635],[1215,650],[1240,650],[1265,650],[1290,650],[1310,650],[1230,670],[1255,670],[1280,670],[1305,670],[1215,690],[1245,688],[1270,690],[1295,688],[1190,630],[1190,680]];
const blueG: P = [[712,22],[718,41],[763,31],[772,52],[808,13],[787,25],[762,109],[772,109],[780,109],[862,124],[698,123],[700,128],[688,142],[676,160],[1087,314],[952,385],[1360,436],[1379,462],[1370,473],[1375,481],[1263,541],[1268,547],[1250,559],[1241,573],[1279,568],[1312,711],[1240,8],[1265,15],[1288,18],[1255,28],[1245,35],[1305,33],[1322,25],[1336,7],[1336,88],[1470,25],[1480,10],[1497,42]];

const redH: P = [[50,87],[5,95],[25,100],[73,100],[40,108],[5,115],[58,120],[38,120],[27,141],
[508,133],[430,150],[450,150],[470,150],[532,167],[460,165],[485,175],[510,183],[450,190],[492,187],
[850,160],[835,182],[870,180],[806,195],[830,200],[855,200],[910,195],[895,210],[818,215],[845,215],[880,225],[825,240],[860,245],
[1290,153],[1327,153],[1336,172],[1255,180],[1280,175],[1305,175],[1357,180],[1245,195],[1270,195],[1295,195],[1320,195],[1345,200],[1260,212],[1310,212],[1330,212],[1225,217],[1360,217],[1270,232],[1305,240],[1345,230],[1335,240],[1273,253],
[1105,284],[1072,294],[1130,290],[1148,297],[1085,310],[1110,310],[1135,310],[1165,325],[1060,322],[1085,325],[1110,325],[1135,325],[1048,340],[1075,340],[1100,340],[1125,345],[1165,355],[1070,358],[1105,365],[1150,378],
[160,316],[178,316],[215,325],[145,340],[170,335],[195,345],[225,345],[125,363],[150,362],[175,365],[205,365],[235,365],[265,355],[122,382],[145,385],[170,385],[200,390],[225,385],[250,385],[275,390],[127,412],[155,412],[180,405],[205,410],[235,410],[272,400],[180,435],[195,438],[220,427],[245,438],[265,422],[148,439],[205,458],[218,453],
[682,405],[755,410],[640,430],[670,430],[695,430],[735,425],[745,440],[660,450],[690,450],[715,450],[760,453],[640,452],[675,465],[710,475],[694,480],[637,490],
[367,803],[380,810],[415,805],[340,835],[365,827],[390,825],[415,825],[440,820],[500,823],[365,855],[395,845],[420,845],[445,845],[475,850],[510,850],[343,861],[375,870],[400,865],[425,865],[455,870],[505,868],[310,889],[328,882],[358,888],[385,885],[415,885],[450,890],[490,885],[522,892],[350,910],[385,915],[420,905],[465,908],[487,918],[390,935],[427,935],[445,930],[460,943],[390,945],[427,950],
[885,740],[814,763],[890,765],[910,770],[840,780],[870,780],[895,785],[915,785],[822,790],[870,800],[895,800],[920,803],[810,808],[850,810],[875,815],[832,820],[905,820],[860,843],[888,850],
[1316,728],[1380,738],[1459,739],[1490,736],[1415,760],[1358,752],[1390,785],[1425,785],[1465,790],[1360,800],[1385,805],[1410,800],[1485,805],[1340,820],[1365,820],[1390,825],[1415,825],[1445,820],[1285,820],[1290,850],[1320,845],[1345,840],[1375,845],[1400,845],[1430,840],[1470,835],[1335,865],[1360,865],[1395,870],[1430,862],[1457,870],[1330,883],[1375,885],[1420,892],[1373,902],
[400,835],[425,835],[450,835],[380,850],[405,855],[430,855],[455,855],[385,870],[410,875],[440,875],[470,870],[400,890],[430,892],[465,885],[375,835],[190,355],[215,355],[165,375],[190,375],[215,375],[240,375],[165,395],[190,398],[215,398],[240,398],[260,375],[200,420],[170,420],[150,375],[860,795],[880,790],[905,795],[860,825],[890,825],[880,835],[850,790],[880,770],[905,805],[1375,830],[1400,830],[1425,830],[1355,840],[1385,855],[1410,855],[1370,805],[1400,815],[1420,810],[1355,855],[1095,315],[1120,315],[1095,335],[1120,335],[1140,335],[1085,350],[1280,185],[1305,185],[1330,185],[1285,205],[1310,200],[680,440],[700,440],[690,460],[670,450],[705,460],[25,115],[840,205],[860,215],[870,200],[465,160],[480,160],[470,178],[450,170]];
const blueH: P = [[10,15],[30,10],[30,25],[85,5],[75,20],[142,25],[166,25],[283,22],[305,20],[322,28],[352,12],[428,10],[463,3],[508,15],[520,14],[559,25],[577,37],[502,40],[880,31],[982,0],[1053,15],[1145,19],[1208,13],[1290,0],[1352,20],[1365,12],[1342,28],[1470,18],[1490,18],[1495,30],[955,46],[1010,45],[1012,57],[1187,49],[1284,53],[1290,65],[1337,61],[1402,61],[1470,50],[1463,62],
[55,38],[80,40],[70,50],[48,60],[20,50],[20,62],[38,62],[75,70],[15,80],[30,75],[272,58],[277,68],[382,61],[634,70],[793,73],[817,67],[1075,60],[1093,55],[1090,72],[1132,70],[1219,75],[1225,87],[1300,90],[1315,90],[1328,80],[1330,100],[1245,94],[1255,95],[973,88],[1025,88],[1033,88],[1045,100],[1055,108],[1138,95],[1201,88],[199,94],[328,80],[315,100],[305,115],[290,128],[280,140],[415,94],[1278,106],[1140,121],[1291,127],[1375,121],[462,113],[466,120],[440,124],[478,135],[92,130],[370,151],[485,160],[697,147],[935,139],[955,139],[958,162],[1197,135],[1115,163],[1185,155],[1172,170],[1205,148],[1220,156],[1245,153],[1238,160],[1184,180],[1198,181],[1135,192],[1138,205],[935,180],[920,187],[945,187],[271,202],[401,199],[388,202],[148,223],[310,218],[217,226],[229,244],[148,250],[248,253],[227,265],[225,275],[1180,233],[1187,228],[1065,247],[1115,256],[777,255],[785,250],[316,268],[395,283],[403,283],[385,284],[248,287],[127,292],[199,287],[283,292],[335,301],[196,306],[240,308],[232,316],[586,307],[660,312],[655,317],[700,317],[705,323],[610,337],[620,350],[612,358],[623,374],[253,338],[271,338],[310,325],[298,358],[760,337],[755,365],[815,361],[718,365],[670,370],[700,380],[725,380],[398,364],[403,364],[199,370],[187,388],[322,391],[1174,301],[1199,343],[1150,370],[640,395],[630,403],[575,400],[592,400],[615,410],[655,410],[620,418],[772,403],[710,405],[592,436],[616,438],
[305,574],[415,616],[595,638],[598,658],[722,661],[829,665],[958,632],[952,648],[1337,526],[1340,547],[1359,570],[1382,571],[1340,578],[1325,592],[1370,585],[1345,605],[1335,620],[1327,623],[1459,592],[1414,619],[1384,630],[1312,637],[1237,667],[1382,658],[1400,663],[1415,675],[1378,680],[650,676],[655,676],[1352,690],[1405,700],[675,698],[682,698],[592,697],[503,694],[400,697],[376,706],[1482,703],[1465,708],[1445,718],[1226,712],[752,709],[1345,708],[1380,708],[1305,715],[1315,725],[958,712],[958,720],[952,736],[565,708],[640,703],[625,708],[575,718],[610,724],[727,727],[798,715],[820,710],[845,703],[868,706],[805,730],[830,730],[490,722],[490,740],[439,719],[358,728],[348,735],[337,745],[517,736],[535,741],[655,730],[650,745],[555,740],[575,730],[575,745],[625,745],[610,754],[565,760],[685,752],[675,765],[1360,733],[1380,732],[1410,735],[987,748],[980,750],[868,740],[856,757],[445,741],[430,750],[415,760],[377,750],[525,760],[535,770],[732,766],[585,772],[597,783],[640,770],[630,772],[373,778],[460,775],[502,781],[412,785],[428,785],[550,784],[527,795],[522,805],[495,795],[485,808],[450,796],[550,814],[517,820],[290,793],[960,787],[980,793],
[1330,750],[1345,750],[1320,770],[1335,765],[1310,780],[1330,785],[1258,763],[1283,775],[1250,788],[1265,790],[1280,790],[1345,797],[1300,805],[1325,812],[1216,808],[1255,812],[1249,832],[1364,772],[1426,760],[332,832],[290,844],[478,838],[535,856],[448,871],[586,883],[436,913]];

const redI: P = [[38,12],[52,22],[85,25],[75,3],[100,5],
[400,5],[470,5],[510,12],[370,40],[395,30],[420,20],[445,25],[490,40],[515,22],[378,50],[400,50],[430,50],[455,45],[520,48],[553,52],[382,62],[415,70],[455,70],[480,65],[508,63],[392,79],[422,85],[452,88],[488,85],[478,104],
[220,350],[280,355],[265,360],[217,368],[250,375],[190,382],[280,385],[212,394],[197,401],[245,403],[268,410],[260,390],
[830,227],[880,213],[870,222],[860,237],[900,250],[880,255],[868,265],[812,281],[836,281],[856,287],[855,272],
[410,40],[430,35],[450,35],[470,25],[475,50],[440,15],[390,45],[410,60],[435,60],[460,60],[420,5]];
const blueI: P = [[2,28],[280,18],[300,10],[320,8],[360,8],[355,14],[332,25],[310,34],[256,28],[240,34],[283,52],[298,64],[347,52],[481,22],[435,55],[325,118],[427,145],[208,166],[154,181],[22,196],[124,202],[253,193],[289,214],[285,221],[199,214],[247,214],[120,220],[120,230],[94,241],[167,241],[271,245],[271,255],[217,250],[238,256],[204,259],[300,262],[139,268],[158,271],[170,274],[97,265],[95,275],[72,277],[58,283],[7,286],[250,277],[268,270],[215,280],[258,290],[280,283],[280,293],[193,290],[180,305],[225,298],[175,320],[190,320],[97,320],[160,325],[130,331],[180,335],[220,320],[215,335],[245,313],[258,315],[268,331],[250,340],[243,350],[151,347],[91,352],[185,352],[199,358],
[826,184],[815,205],[853,205],[832,210],[848,222],[785,232],[805,238],[825,240],[845,245],[868,245],[893,232],[915,225],[905,230],[810,255],[820,262],[842,265],[893,260],[905,272],[898,278]];

const sheets: [number, number, P, P][] = [
  [0, 0, redA, blueA], [1500, 0, redB, blueB], [3000, 0, redC, blueC],
  [0, 1125, redD, blueD], [1500, 1125, redE, blueE], [3000, 1125, redF, blueF],
  [0, 2250, redG, blueG], [1500, 2250, redH, blueH], [3000, 2250, redI, blueI],
];
const redPoints = sheets.flatMap(([dx, dy, r]) => r.map(([x, y]) => [x + dx, y + dy]));
const bluePoints = sheets.flatMap(([dx, dy, , b]) => b.map(([x, y]) => [x + dx, y + dy]));

export default function App() {
  const ref = useRef<HTMLDivElement>(null);
  useEffect(() => {
    const chart = echarts.init(ref.current!, null, { renderer: "svg" });
    const axisBase = {
      type: "value" as const,
      axisLine: { show: false },
      axisTick: { show: false },
      axisLabel: { show: false },
      splitLine: { show: false },
    };
    chart.setOption({
      animation: false,
      backgroundColor: "#fff",
      grid: { show: true, left: 9, top: 9, width: 1488, height: 1108, borderColor: "#000", borderWidth: 3.5, backgroundColor: "#fff" },
      xAxis: { ...axisBase, min: 27, max: 4491 },
      yAxis: { ...axisBase, min: 27, max: 3351, inverse: true },
      series: [
        { name: "red", type: "scatter", data: redPoints, symbolSize: 7.5, itemStyle: { color: "#ff0000", opacity: 1 }, silent: true },
        { name: "blue", type: "scatter", data: bluePoints, symbolSize: 7.5, itemStyle: { color: "#0000ff", opacity: 1 }, silent: true },
      ],
    });
    return () => chart.dispose();
  }, []);
  return <div ref={ref} style={{ position: "fixed", left: 0, top: 0, width: 1504, height: 1127 }} />;
}
